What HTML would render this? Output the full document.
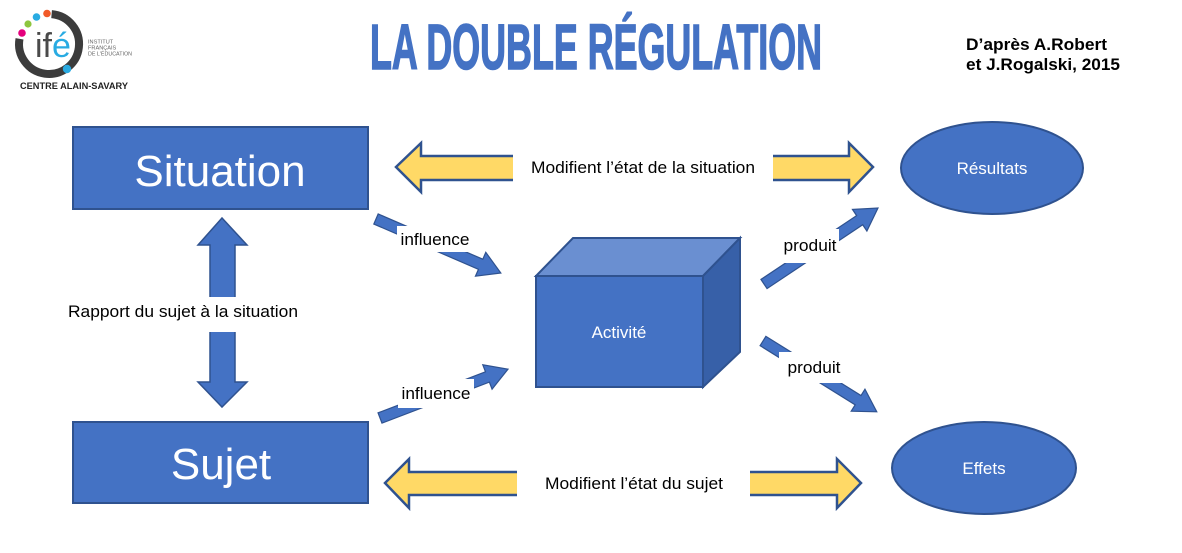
<!DOCTYPE html>
<html><head><meta charset="utf-8">
<style>
html,body{margin:0;padding:0;background:#fff;}
svg{display:block;}
text{font-family:"Liberation Sans",Arial,sans-serif;}
</style></head>
<body>
<svg width="1182" height="553" viewBox="0 0 1182 553" xmlns="http://www.w3.org/2000/svg">
<rect width="1182" height="553" fill="#fff"/>

<!-- Logo -->
<path d="M51.6,14.1 A30,30 0 1 1 19.5,38.8" fill="none" stroke="#3c3c3c" stroke-width="8"/>
<circle cx="22" cy="33" r="3.8" fill="#E5007D"/>
<circle cx="28" cy="24" r="3.6" fill="#8DC63F"/>
<circle cx="36.5" cy="17" r="3.8" fill="#29ABE2"/>
<circle cx="47" cy="13.5" r="3.8" fill="#F15A29"/>
<circle cx="67" cy="69" r="4.2" fill="#29ABE2"/>
<text x="35" y="57" font-size="34" fill="#4a4a4a">if<tspan fill="#29ABE2">é</tspan></text>
<text x="88" y="43.5" font-size="5.6" fill="#666">INSTITUT</text>
<text x="88" y="49.5" font-size="5.6" fill="#666">FRANÇAIS</text>
<text x="88" y="55.5" font-size="5.6" fill="#666" textLength="44" lengthAdjust="spacingAndGlyphs">DE L'ÉDUCATION</text>
<text x="20" y="89" font-size="9.6" font-weight="bold" fill="#222" textLength="108" lengthAdjust="spacingAndGlyphs">CENTRE ALAIN-SAVARY</text>

<!-- Title -->
<text x="370" y="69" font-size="64" font-weight="bold" fill="#4472C4" stroke="#4472C4" stroke-width="1.6" textLength="452" lengthAdjust="spacingAndGlyphs">LA DOUBLE RÉGULATION</text>

<!-- Credit -->
<text x="966" y="50" font-size="17" font-weight="bold" fill="#000" textLength="141" lengthAdjust="spacingAndGlyphs">D’après A.Robert</text>
<text x="966" y="70" font-size="17" font-weight="bold" fill="#000" textLength="154" lengthAdjust="spacingAndGlyphs">et J.Rogalski, 2015</text>

<!-- Situation / Sujet boxes -->
<rect x="73" y="127" width="295" height="82" fill="#4472C4" stroke="#2F528F" stroke-width="2"/>
<text x="220" y="186" font-size="44" fill="#fff" text-anchor="middle">Situation</text>
<rect x="73" y="422" width="295" height="81" fill="#4472C4" stroke="#2F528F" stroke-width="2"/>
<text x="221" y="479" font-size="44" fill="#fff" text-anchor="middle">Sujet</text>

<!-- Vertical arrows -->
<polygon points="210,305 210,245 198,245 222,218 247,245 235,245 235,305" fill="#4472C4" stroke="#2F528F" stroke-width="1.5"/>
<polygon points="210,325 235,325 235,382 247,382 222,407 198,382 210,382" fill="#4472C4" stroke="#2F528F" stroke-width="1.5"/>
<rect x="195" y="297" width="60" height="35" fill="#fff"/>
<text x="183" y="317" font-size="17" fill="#000" text-anchor="middle" textLength="230" lengthAdjust="spacingAndGlyphs">Rapport du sujet à la situation</text>

<!-- Yellow arrows -->
<polygon points="396,167 421,143 421,156 849,156 849,143 873,167 849,192 849,180 421,180 421,192" fill="#FFD966" stroke="#2F528F" stroke-width="2.5" stroke-linejoin="miter"/>
<rect x="513" y="140" width="260" height="56" fill="#fff"/>
<text x="643" y="173" font-size="17" fill="#000" text-anchor="middle" textLength="224" lengthAdjust="spacingAndGlyphs">Modifient l’état de la situation</text>

<polygon points="385,483 409,459 409,472 837,472 837,459 861,483 837,508 837,495 409,495 409,508" fill="#FFD966" stroke="#2F528F" stroke-width="2.5" stroke-linejoin="miter"/>
<rect x="517" y="456" width="233" height="56" fill="#fff"/>
<text x="634" y="489" font-size="17" fill="#000" text-anchor="middle" textLength="178" lengthAdjust="spacingAndGlyphs">Modifient l’état du sujet</text>

<!-- Cube -->
<polygon points="536,276 573,238 740,238 703,276" fill="#6A8FD1" stroke="#2F528F" stroke-width="2"/>
<polygon points="703,276 740,238 740,352 703,387" fill="#3760A8" stroke="#2F528F" stroke-width="2"/>
<rect x="536" y="276" width="167" height="111" fill="#4472C4" stroke="#2F528F" stroke-width="2"/>
<text x="619" y="338" font-size="17" fill="#fff" text-anchor="middle">Activité</text>

<!-- Diagonal arrows -->
<g transform="translate(376,219) rotate(23.4)">
<polygon points="0,-5.5 114,-5.5 114,-13 136,0 114,13 114,5.5 0,5.5" fill="#4472C4" stroke="#2F528F" stroke-width="1.2"/>
</g>
<g transform="translate(380,418) rotate(-20.9)">
<polygon points="0,-5.5 115,-5.5 115,-13 137,0 115,13 115,5.5 0,5.5" fill="#4472C4" stroke="#2F528F" stroke-width="1.2"/>
</g>
<g transform="translate(764,284) rotate(-33.7)">
<polygon points="0,-5.5 115,-5.5 115,-13 137,0 115,13 115,5.5 0,5.5" fill="#4472C4" stroke="#2F528F" stroke-width="1.2"/>
</g>
<g transform="translate(763,341) rotate(31.9)">
<polygon points="0,-5.5 112,-5.5 112,-13 134,0 112,13 112,5.5 0,5.5" fill="#4472C4" stroke="#2F528F" stroke-width="1.2"/>
</g>

<rect x="397" y="226" width="79" height="26" fill="#fff"/>
<text x="435" y="245" font-size="17" fill="#000" text-anchor="middle" textLength="69" lengthAdjust="spacingAndGlyphs">influence</text>
<rect x="398" y="379" width="76" height="29" fill="#fff"/>
<text x="436" y="399" font-size="17" fill="#000" text-anchor="middle" textLength="69" lengthAdjust="spacingAndGlyphs">influence</text>
<rect x="777" y="229" width="62" height="34" fill="#fff"/>
<text x="810" y="251" font-size="17" fill="#000" text-anchor="middle" textLength="53" lengthAdjust="spacingAndGlyphs">produit</text>
<rect x="779" y="352" width="68" height="31" fill="#fff"/>
<text x="814" y="373" font-size="17" fill="#000" text-anchor="middle" textLength="53" lengthAdjust="spacingAndGlyphs">produit</text>

<!-- Ellipses -->
<ellipse cx="992" cy="168" rx="91" ry="46" fill="#4472C4" stroke="#2F528F" stroke-width="2"/>
<text x="992" y="174" font-size="17" fill="#fff" text-anchor="middle">Résultats</text>
<ellipse cx="984" cy="468" rx="92" ry="46" fill="#4472C4" stroke="#2F528F" stroke-width="2"/>
<text x="984" y="474" font-size="17" fill="#fff" text-anchor="middle">Effets</text>
</svg>
</body></html>
